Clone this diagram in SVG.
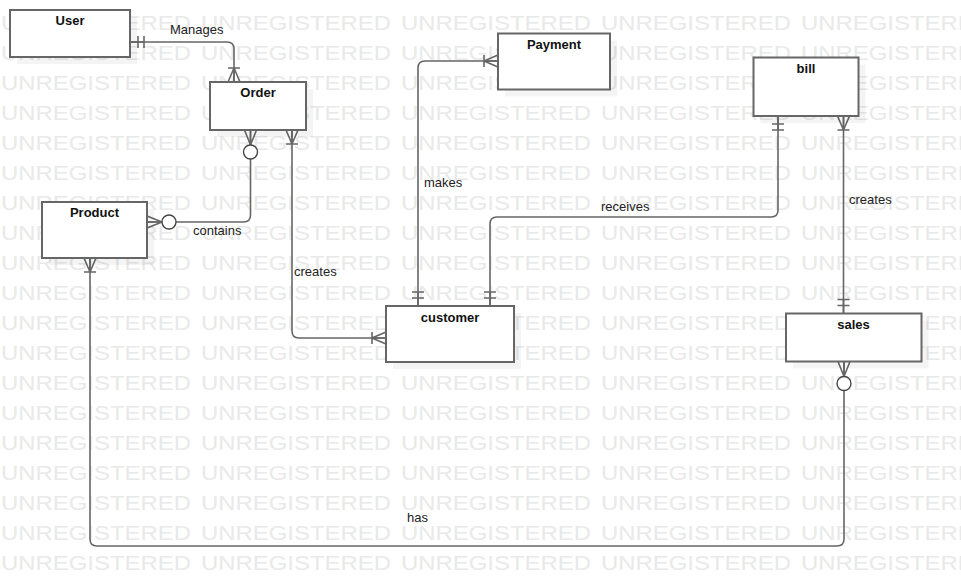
<svg xmlns="http://www.w3.org/2000/svg" xmlns:xlink="http://www.w3.org/1999/xlink" width="961" height="587" viewBox="0 0 961 587">
<style>
.wm{font-family:"Liberation Sans",Arial,sans-serif;font-size:21px;fill:#e9e9e9}
.shadow{fill:#000;fill-opacity:0.045}
.box{fill:#fff;stroke:#666;stroke-width:2}
.title{font-family:"Liberation Sans",Arial,sans-serif;font-size:13px;font-weight:bold;fill:#111;text-anchor:middle}
.lbl{font-family:"Liberation Sans",Arial,sans-serif;font-size:13px;fill:#222}
.conn{fill:none;stroke:#666;stroke-width:1.6}
.mk{fill:none;stroke:#666;stroke-width:1.6}
.mkc{fill:#fff;stroke:#444;stroke-width:1.4}
</style>
<defs>
<g id="wmrow">
<text class="wm" x="1" y="29.5" textLength="190" lengthAdjust="spacingAndGlyphs">UNREGISTERED</text>
<text class="wm" x="201" y="29.5" textLength="190" lengthAdjust="spacingAndGlyphs">UNREGISTERED</text>
<text class="wm" x="401" y="29.5" textLength="190" lengthAdjust="spacingAndGlyphs">UNREGISTERED</text>
<text class="wm" x="601" y="29.5" textLength="190" lengthAdjust="spacingAndGlyphs">UNREGISTERED</text>
<text class="wm" x="801" y="29.5" textLength="190" lengthAdjust="spacingAndGlyphs">UNREGISTERED</text>
</g>
<g id="mOne" class="mk"><path d="M0,0H14M8,-6V6M14,-6V6"/></g>
<g id="mOneMany" class="mk"><path d="M0,0H14M14,0L0,-6M14,0L0,6M14,-6V6"/></g>
<g id="mZeroMany"><path class="mk" d="M0,0H15M15,0L0,-6M15,0L0,6"/><circle class="mkc" cx="22" cy="0" r="7"/></g>
</defs>
<rect width="961" height="587" fill="#fff"/>
<g id="watermark">
<use xlink:href="#wmrow" y="0"/><use xlink:href="#wmrow" y="30"/><use xlink:href="#wmrow" y="60"/><use xlink:href="#wmrow" y="90"/>
<use xlink:href="#wmrow" y="120"/><use xlink:href="#wmrow" y="150"/><use xlink:href="#wmrow" y="180"/><use xlink:href="#wmrow" y="210"/>
<use xlink:href="#wmrow" y="240"/><use xlink:href="#wmrow" y="270"/><use xlink:href="#wmrow" y="300"/><use xlink:href="#wmrow" y="330"/>
<use xlink:href="#wmrow" y="360"/><use xlink:href="#wmrow" y="390"/><use xlink:href="#wmrow" y="420"/><use xlink:href="#wmrow" y="450"/>
<use xlink:href="#wmrow" y="480"/><use xlink:href="#wmrow" y="510"/><use xlink:href="#wmrow" y="540"/>
</g>
<g id="connectors">
<path class="conn" d="M130,42H227Q234,42 234,49V82"/>
<path class="conn" d="M250.5,130V215Q250.5,222 243.5,222H147"/>
<path class="conn" d="M292,130V331Q292,338 299,338H386"/>
<path class="conn" d="M498,61H425Q418,61 418,68V306"/>
<path class="conn" d="M490,306V224Q490,217 497,217H771Q778,217 778,210V116"/>
<path class="conn" d="M843.5,116V313.5"/>
<path class="conn" d="M844,361.5V539Q844,546 837,546H97Q90,546 90,539V258"/>
<use xlink:href="#mOne" transform="translate(130,42)"/>
<use xlink:href="#mOneMany" transform="translate(234,82) rotate(-90)"/>
<use xlink:href="#mZeroMany" transform="translate(250.5,130) rotate(90)"/>
<use xlink:href="#mZeroMany" transform="translate(147,222)"/>
<use xlink:href="#mOneMany" transform="translate(292,130) rotate(90)"/>
<use xlink:href="#mOneMany" transform="translate(386,338) rotate(180)"/>
<use xlink:href="#mOneMany" transform="translate(498,61) rotate(180)"/>
<use xlink:href="#mOne" transform="translate(418,306) rotate(-90)"/>
<use xlink:href="#mOne" transform="translate(490,306) rotate(-90)"/>
<use xlink:href="#mOne" transform="translate(778,116) rotate(90)"/>
<use xlink:href="#mOneMany" transform="translate(843.5,116) rotate(90)"/>
<use xlink:href="#mOne" transform="translate(843.5,313.5) rotate(-90)"/>
<use xlink:href="#mZeroMany" transform="translate(844,361.5) rotate(90)"/>
<use xlink:href="#mOneMany" transform="translate(90,258) rotate(90)"/>
<text class="lbl" x="170" y="34">Manages</text>
<text class="lbl" x="193" y="235">contains</text>
<text class="lbl" x="294" y="276">creates</text>
<text class="lbl" x="424" y="187">makes</text>
<text class="lbl" x="601" y="211">receives</text>
<text class="lbl" x="849" y="204">creates</text>
<text class="lbl" x="407" y="522">has</text>
</g>
<g id="node-user"><rect class="shadow" x="17" y="17" width="120" height="47"/><rect class="box" x="10" y="10" width="120" height="47"/><text class="title" x="70" y="25">User</text></g>
<g id="node-order"><rect class="shadow" x="217" y="89" width="96" height="48"/><rect class="box" x="210" y="82" width="96" height="48"/><text class="title" x="258" y="97">Order</text></g>
<g id="node-payment"><rect class="shadow" x="505" y="40.5" width="112" height="56"/><rect class="box" x="498" y="33.5" width="112" height="56"/><text class="title" x="554" y="49">Payment</text></g>
<g id="node-bill"><rect class="shadow" x="760.5" y="64.5" width="105" height="58.5"/><rect class="box" x="753.5" y="57.5" width="105" height="58.5"/><text class="title" x="806" y="73">bill</text></g>
<g id="node-product"><rect class="shadow" x="49" y="209" width="105" height="56"/><rect class="box" x="42" y="202" width="105" height="56"/><text class="title" x="94.5" y="217">Product</text></g>
<g id="node-customer"><rect class="shadow" x="393" y="313" width="128" height="56"/><rect class="box" x="386" y="306" width="128" height="56"/><text class="title" x="450" y="321.5">customer</text></g>
<g id="node-sales"><rect class="shadow" x="793" y="320.5" width="135.5" height="48"/><rect class="box" x="786" y="313.5" width="135.5" height="48"/><text class="title" x="853.5" y="329">sales</text></g>
</svg>
